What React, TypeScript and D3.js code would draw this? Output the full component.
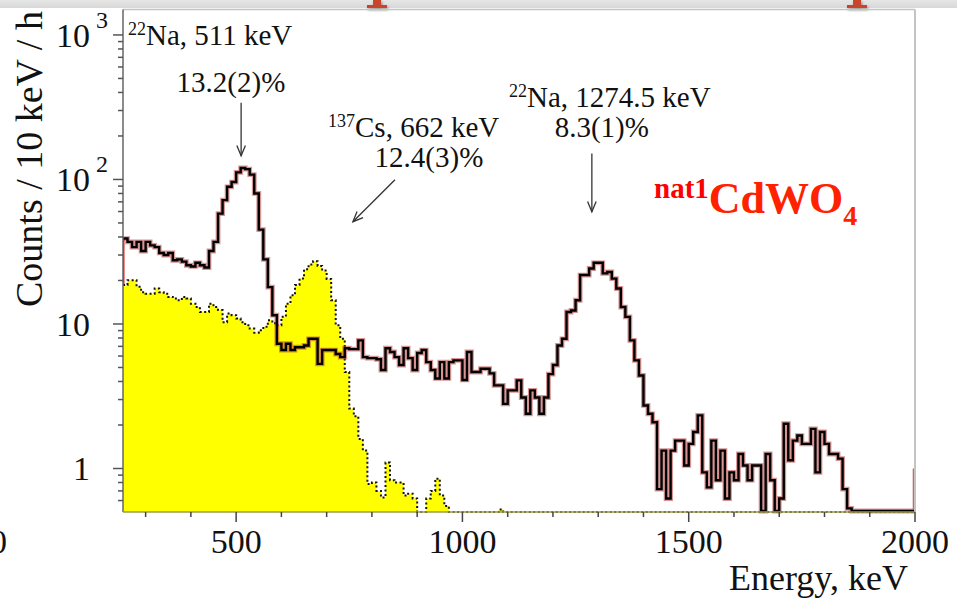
import React from 'react';
import * as d3 from 'd3';

const W = 957;
const H = 600;
const BIN_START = 250;
const BIN_WIDTH = 10;
const X_DOMAIN: [number, number] = [250, 2000];
const Y_DOMAIN: [number, number] = [0.5, 1500];

// 22Na spectrum, counts / 10 keV / h, bins of 10 keV starting at 250 keV
const naCounts = [
  39, 37, 34, 37, 32, 37, 35, 34, 31, 30,
  31, 27.6, 28, 27, 25.5, 25, 26.5, 25.5, 24.6, 32,
  37, 58, 72, 89, 96, 112, 120, 118, 108, 80,
  45, 28, 18, 11.5, 7.3, 6.6, 7.3, 6.6, 6.9, 6.9,
  7.1, 7.9, 7.9, 5.3, 6.6, 6.6, 6.6, 6.2, 5.9, 6.8,
  6.7, 6.7, 7.7, 5.9, 5.8, 5.8, 5.7, 4.8, 6.8, 6.4,
  5.9, 5.2, 6.8, 5.8, 4.8, 6.3, 6.6, 5.45, 4.8, 4.2,
  5.45, 4.2, 5.45, 5.6, 5.6, 4.1, 6.4, 4.65, 4.65, 4.9,
  4.9, 4.55, 3.76, 3.76, 2.8, 3.47, 3.47, 4.07, 3.1, 2.39,
  3.47, 3.1, 2.39, 3.1, 4.5, 5.2, 7.1, 7.9, 12.1, 12.4,
  14.6, 21.8, 21.8, 24.2, 26.5, 26.5, 22.4, 22.9, 20.6, 17.6,
  13.1, 11.2, 7.7, 5.6, 4.4, 2.73, 2.39, 2.09, 0.72, 1.33,
  0.62, 1.33, 1.56, 1.56, 1.05, 1.48, 1.79, 2.33, 0.94, 0.74,
  1.56, 0.83, 1.33, 0.62, 0.94, 0.83, 1.26, 1.05, 0.83, 1.05,
  1.05, 0.4, 1.26, 0.83, 0.4, 0.62, 2.04, 1.14, 1.56, 1.69,
  1.48, 1.48, 1.88, 0.94, 1.79, 1.48, 1.26, 1.26, 1.17, 0.72,
  0.53, 0, 0, 0, 0, 0, 0, 0, 0, 0,
  0, 0, 0, 0, 0,
];
const naOverflowEdge = 1;

// 137Cs spectrum (yellow), same binning
const csCounts = [
  18.6, 20.1, 20.1, 18.1, 16.6, 16.2, 16.2, 17.6, 16.6, 16.2,
  15.4, 15.0, 14.6, 15.4, 15.0, 13.8, 13.1, 12.1, 12.1, 13.8,
  13.1, 12.5, 10.3, 11.8, 11.5, 10.9, 10.3, 9.8, 9.3, 8.7,
  9.06, 9.55, 10.6, 10.1, 9.8, 11.2, 13.8, 15.8, 18.6, 20.6,
  23.9, 25.8, 27.2, 25.2, 23.4, 20.5, 14.6, 9.8, 7.9, 4.65,
  2.6, 2.3, 1.6, 1.33, 0.78, 0.8, 0.7, 0.63, 1.1, 0.83,
  0.8, 0.8, 0.65, 0.67, 0.62, 0, 0, 0.62, 0.7, 0.85,
  0.65, 0.55, 0, 0, 0, 0, 0, 0, 0, 0,
  0, 0, 0, 0.52, 0, 0, 0, 0, 0, 0,
  0, 0, 0, 0, 0, 0, 0, 0, 0, 0,
  0, 0, 0, 0, 0, 0, 0, 0, 0, 0,
  0, 0, 0, 0, 0, 0, 0, 0, 0, 0,
  0, 0, 0, 0, 0, 0, 0, 0, 0, 0,
  0, 0, 0, 0, 0, 0, 0, 0, 0, 0,
  0, 0, 0, 0, 0, 0, 0, 0, 0, 0,
  0, 0, 0, 0, 0, 0, 0, 0, 0, 0,
  0, 0, 0, 0, 0, 0, 0, 0, 0, 0,
  0, 0, 0, 0, 0,
];

const xMajorTicks = [500, 1000, 1500, 2000];
const xMinorTicks = [300, 400, 600, 700, 800, 900, 1100, 1200, 1300, 1400, 1600, 1700, 1800, 1900];
const yMajorTicks = [1, 10, 100, 1000];
const yMajorBase = ['1', '10', '10', '10'];
const yMajorExp = ['', '', '2', '3'];
const yMinorTicks = [0.6, 0.7, 0.8, 0.9, 2, 3, 4, 5, 6, 7, 8, 9, 20, 30, 40, 50, 60, 70, 80, 90, 200, 300, 400, 500, 600, 700, 800, 900];

// annotations in data coordinates (keV, counts)
const labelSup = ['22', '137', '22'];
const labelMain = ['Na, 511 keV', 'Cs, 662 keV', 'Na, 1274.5 keV'];
const labelE = [261, 703, 1103];
const labelV = [857, 197.6, 318.7];
const resText = ['13.2(2)%', '12.4(3)%', '8.3(1)%'];
const resE = [488.6, 926, 1308];
const resV = [405, 122.4, 197.6];
const arrowFromE = [511, 851, 1286];
const arrowFromV = [340, 99.5, 151];
const arrowToE = [511, 758, 1286];
const arrowToV = [146, 51, 59.8];

const FONT = "'Liberation Serif', 'Times New Roman', Times, serif";

export default function App() {
  const left = 123, right = 915, top = 9.5, bottom = 512;
  const x = d3.scaleLinear().domain(X_DOMAIN).range([left, right]);
  const y = d3.scaleLog().domain(Y_DOMAIN).range([bottom, top]);
  const yc = (v: number, floor: number) => (v >= Y_DOMAIN[0] ? y(v) : floor);

  const toPts = (arr: number[]) => {
    const pts: [number, number][] = arr.map((v, i) => [BIN_START + i * BIN_WIDTH, v]);
    pts.push([BIN_START + arr.length * BIN_WIDTH, arr[arr.length - 1]]);
    return pts;
  };
  const naPts = toPts(naCounts);
  const csPts = toPts(csCounts);

  const naLine = d3.line<[number, number]>()
    .x(d => x(d[0])).y(d => yc(d[1], bottom - 1)).curve(d3.curveStepAfter);
  const csLine = d3.line<[number, number]>()
    .x(d => x(d[0])).y(d => yc(d[1], bottom)).curve(d3.curveStepAfter);
  const csArea = d3.area<[number, number]>()
    .x(d => x(d[0])).y0(bottom).y1(d => yc(d[1], bottom)).curve(d3.curveStepAfter);

  const naPath = (naLine(naPts) || '') +
    `M${x(X_DOMAIN[1])},${bottom - 1}V${y(naOverflowEdge)}`;

  const arrowHead = (x1: number, y1: number, x2: number, y2: number) => {
    const a = Math.atan2(y2 - y1, x2 - x1);
    const L = 11, h = 0.4;
    const p1 = [x2 - L * Math.cos(a - h), y2 - L * Math.sin(a - h)];
    const p2 = [x2 - L * Math.cos(a + h), y2 - L * Math.sin(a + h)];
    return `M${p1[0]},${p1[1]}L${x2},${y2}L${p2[0]},${p2[1]}`;
  };

  const tickFont = 34;

  return (
    <svg width={W} height={H} style={{ position: 'absolute', left: 0, top: 0, background: '#fff' }}
      fontFamily={FONT}>
      <defs>
        <clipPath id="plotClip">
          <rect x={left} y={top} width={right - left} height={bottom - top + 2} />
        </clipPath>
        <filter id="shadow" x="-50%" y="-50%" width="200%" height="200%">
          <feDropShadow dx="1" dy="2" stdDeviation="1.5" floodColor="#000" floodOpacity="0.45" />
        </filter>
        <linearGradient id="band" x1="0" y1="0" x2="0" y2="1">
          <stop offset="0" stopColor="#e6e6e6" />
          <stop offset="1" stopColor="#d8d8d8" />
        </linearGradient>
      </defs>
      <rect x={0} y={0} width={W} height={H} fill="#fff" />
      {/* y axis title */}
      <text transform="translate(42,307) rotate(-90)" fontSize={38} fill="#111">Counts / 10 keV / h</text>
      {/* slide band at top */}
      <rect x={0} y={0} width={W} height={8} fill="url(#band)" />
      <g fill="#c8452c" filter="url(#shadow)">
        {[377, 857].map((c, i) => (
          <path key={i} d={`M${c - 4},0H${c + 4}V5H${c + 10}V8H${c - 10}V5H${c - 4}Z`} />
        ))}
      </g>

      {/* cut-off fragment at left */}
      <text x={-10} y={553} fontSize={tickFont} fill="#111">0</text>

      {/* histograms */}
      <g clipPath="url(#plotClip)">
        <line x1={left + 0.5} x2={left + 0.5} y1={y(naCounts[0])} y2={bottom} stroke="#e02020" strokeWidth={2} />
        <path d={csArea(csPts) || ''} fill="#ffff00" />
        <path d={csLine(csPts) || ''} fill="none" stroke="#111" strokeWidth={2} strokeDasharray="2 2.5" />
        <path d={naPath} fill="none" stroke="#b83a3a" strokeOpacity={0.55} strokeWidth={4.8} />
        <path d={naPath} fill="none" stroke="#000" strokeWidth={2.4} />
      </g>

      {/* frame */}
      <line x1={left} x2={right} y1={top} y2={top} stroke="#c4c4c4" strokeWidth={1.5} />
      <line x1={right} x2={right} y1={top} y2={bottom} stroke="#c4c4c4" strokeWidth={2} />
      <line x1={left} x2={left} y1={top} y2={bottom} stroke="#666" strokeWidth={1.5} />
      <line x1={left} x2={right} y1={bottom} y2={bottom} stroke="#9c9c4c" strokeWidth={1.5} />

      {/* x ticks */}
      <g stroke="#444" strokeWidth={1.5}>
        {xMajorTicks.map(t => <line key={'M' + t} x1={x(t)} x2={x(t)} y1={bottom} y2={bottom + 10} />)}
        {xMinorTicks.map(t => <line key={'m' + t} x1={x(t)} x2={x(t)} y1={bottom} y2={bottom + 5} />)}
      </g>
      <g fontSize={tickFont} textAnchor="middle" fill="#111">
        {xMajorTicks.map(t => <text key={t} x={x(t)} y={553}>{t}</text>)}
      </g>
      <text x={908} y={590} fontSize={36} textAnchor="end" fill="#111">Energy, keV</text>

      {/* y ticks */}
      <g stroke="#555" strokeWidth={1.5}>
        {yMajorTicks.map(t => <line key={'M' + t} x1={left - 10} x2={left} y1={y(t)} y2={y(t)} />)}
        {yMinorTicks.map(t => <line key={'m' + t} x1={left - 5} x2={left} y1={y(t)} y2={y(t)} />)}
      </g>
      <g fill="#111">
        {yMajorTicks.map((t, i) => (
          <g key={t}>
            <text x={90} y={y(t) + 12} fontSize={tickFont} textAnchor="end">{yMajorBase[i]}</text>
            {yMajorExp[i] && (
              <text x={96} y={y(t) - 7} fontSize={24}>{yMajorExp[i]}</text>
            )}
          </g>
        ))}
      </g>

      {/* annotations */}
      <g fill="#111">
        {labelMain.map((m, i) => (
          <text key={'l' + i} x={x(labelE[i])} y={y(labelV[i])} fontSize={29}>
            <tspan fontSize={18} dy={-10}>{labelSup[i]}</tspan>
            <tspan dy={10}>{m}</tspan>
          </text>
        ))}
        {resText.map((r, i) => (
          <text key={'r' + i} x={x(resE[i])} y={y(resV[i])} fontSize={29} textAnchor="middle">{r}</text>
        ))}
      </g>
      <g stroke="#333" strokeWidth={1.3} fill="none">
        {arrowFromE.map((e, i) => {
          const x1 = x(e), y1 = y(arrowFromV[i]), x2 = x(arrowToE[i]), y2 = y(arrowToV[i]);
          return (
            <g key={i}>
              <line x1={x1} y1={y1} x2={x2} y2={y2} />
              <path d={arrowHead(x1, y1, x2, y2)} />
            </g>
          );
        })}
      </g>

      {/* material label */}
      <text x={654} y={213} fontWeight="bold" fill="#ff2200">
        <tspan fontSize={29} dy={-15} fill="#ff0000">nat1</tspan>
        <tspan fontSize={44} dy={15}>CdWO</tspan>
        <tspan fontSize={28} dy={12}>4</tspan>
      </text>
    </svg>
  );
}
